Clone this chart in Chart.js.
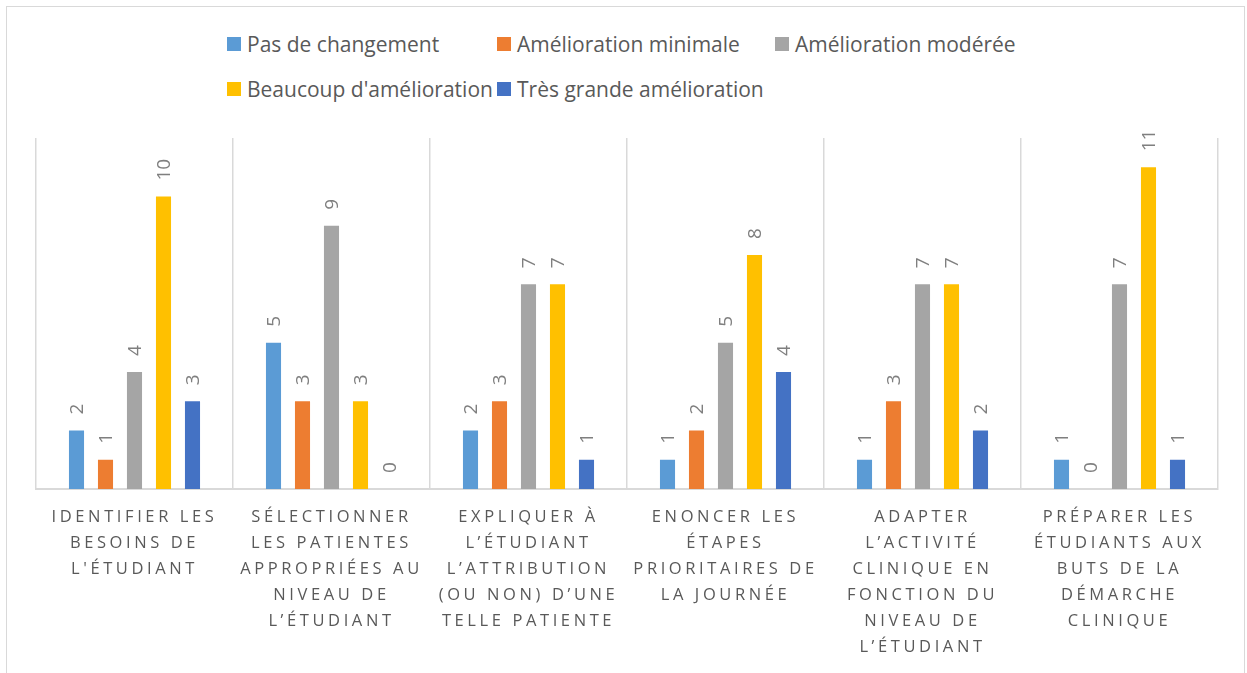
<!DOCTYPE html>
<html lang="fr">
<head>
<meta charset="utf-8">
<title>Amélioration perçue</title>
<script src="https://cdn.jsdelivr.net/npm/chart.js@4/dist/chart.umd.min.js"></script>
<style>
  html, body { margin: 0; padding: 0; background: #fff; }
  body { width: 1247px; height: 673px; position: relative; overflow: hidden; font-family: "Open Sans", sans-serif; }
  #frame { position: absolute; left: 6px; top: 6px; width: 1239px; height: 700px; border: 1.5px solid #d9d9d9; box-sizing: border-box; }
  #chart { position: absolute; left: 0; top: 0; }
  #legend { position: absolute; left: 227px; top: 29px; display: grid; grid-template-columns: 270px 278px auto; row-gap: 16px; }
  .item { display: flex; align-items: center; height: 29px; font-size: 21px; color: #595959; white-space: nowrap; }
  .item i { display: inline-block; width: 14px; height: 14px; margin-right: 6px; }
</style>
</head>
<body>
<div id="frame"></div>
<div id="legend"></div>
<canvas id="chart" width="1247" height="673"></canvas>
<script>
// catégories (une ligne par élément, comme dans l'original)
const categories = [
  ["IDENTIFIER LES", "BESOINS DE", "L'ÉTUDIANT"],
  ["SÉLECTIONNER", "LES PATIENTES", "APPROPRIÉES AU", "NIVEAU DE", "L’ÉTUDIANT"],
  ["EXPLIQUER À", "L’ÉTUDIANT", "L’ATTRIBUTION", "(OU NON) D’UNE", "TELLE PATIENTE"],
  ["ENONCER LES", "ÉTAPES", "PRIORITAIRES DE", "LA JOURNÉE"],
  ["ADAPTER", "L’ACTIVITÉ", "CLINIQUE EN", "FONCTION DU", "NIVEAU DE", "L’ÉTUDIANT"],
  ["PRÉPARER LES", "ÉTUDIANTS AUX", "BUTS DE LA", "DÉMARCHE", "CLINIQUE"],
];

const seriesNames = [
  "Pas de changement",
  "Amélioration minimale",
  "Amélioration modérée",
  "Beaucoup d'amélioration",
  "Très grande amélioration",
];
const seriesColors = ["#5b9bd5", "#ed7d31", "#a5a5a5", "#ffc000", "#4472c4"];

const pasDeChangement = [2, 5, 2, 1, 1, 1];
const ameliorationMinimale = [1, 3, 3, 2, 3, 0];
const ameliorationModeree = [4, 9, 7, 5, 7, 7];
const beaucoupAmelioration = [10, 3, 7, 8, 7, 11];
const tresGrandeAmelioration = [3, 0, 1, 4, 2, 1];

const seriesValues = [
  pasDeChangement,
  ameliorationMinimale,
  ameliorationModeree,
  beaucoupAmelioration,
  tresGrandeAmelioration,
];

const yMax = 12;

// légende HTML, en trois colonnes comme dans Excel
const legendEl = document.getElementById("legend");
seriesNames.forEach((name, i) => {
  const item = document.createElement("div");
  item.className = "item";
  const box = document.createElement("i");
  box.style.background = seriesColors[i];
  item.appendChild(box);
  item.appendChild(document.createTextNode(name));
  legendEl.appendChild(item);
});

// étiquettes de valeur verticales au-dessus des barres
const valueLabels = {
  id: "valueLabels",
  afterDatasetsDraw(chart) {
    const ctx = chart.ctx;
    ctx.save();
    ctx.font = "19px 'Open Sans'";
    ctx.fillStyle = "#7f7f7f";
    ctx.textAlign = "left";
    ctx.textBaseline = "alphabetic";
    chart.data.datasets.forEach((ds, i) => {
      const meta = chart.getDatasetMeta(i);
      meta.data.forEach((bar, j) => {
        ctx.save();
        ctx.translate(bar.x, bar.y - 16);
        ctx.rotate(-Math.PI / 2);
        ctx.fillText(String(ds.data[j]), 0, 6.8);
        ctx.restore();
      });
    });
    ctx.restore();
  },
};

// espacement des lettres pour les libellés de l'axe X
const spacedTicks = {
  id: "spacedTicks",
  beforeDraw(chart) {
    const scale = chart.scales.x;
    if (scale._spaced) return;
    const orig = scale.drawLabels;
    scale.drawLabels = function (area) {
      const c = this.ctx;
      c.save();
      c.letterSpacing = "3.6px";
      orig.call(this, area);
      c.restore();
    };
    scale._spaced = true;
  },
};

const ctx = document.getElementById("chart");

new Chart(ctx, {
  type: "bar",
  data: {
    labels: categories,
    datasets: seriesValues.map((vals, i) => ({
      label: seriesNames[i],
      data: vals,
      backgroundColor: seriesColors[i],
      categoryPercentage: 0.736,
      barPercentage: 0.52,
    })),
  },
  options: {
    responsive: false,
    animation: false,
    layout: { padding: { left: 36, right: 29, top: 138, bottom: 0 } },
    plugins: {
      legend: { display: false },
      tooltip: { enabled: false },
    },
    scales: {
      x: {
        grid: { offset: true, color: "#d9d9d9", lineWidth: 1.5, drawTicks: false },
        border: { color: "#d9d9d9", width: 2 },
        ticks: {
          color: "#595959",
          font: { family: "'Open Sans'", size: 16.5, lineHeight: 1.58 },
          padding: 15,
          maxRotation: 0,
          autoSkip: false,
        },
        afterFit(scale) {
          scale.height = 184;
        },
      },
      y: {
        display: false,
        min: 0,
        max: yMax,
      },
    },
  },
  plugins: [valueLabels, spacedTicks],
});
</script>
</body>
</html>
